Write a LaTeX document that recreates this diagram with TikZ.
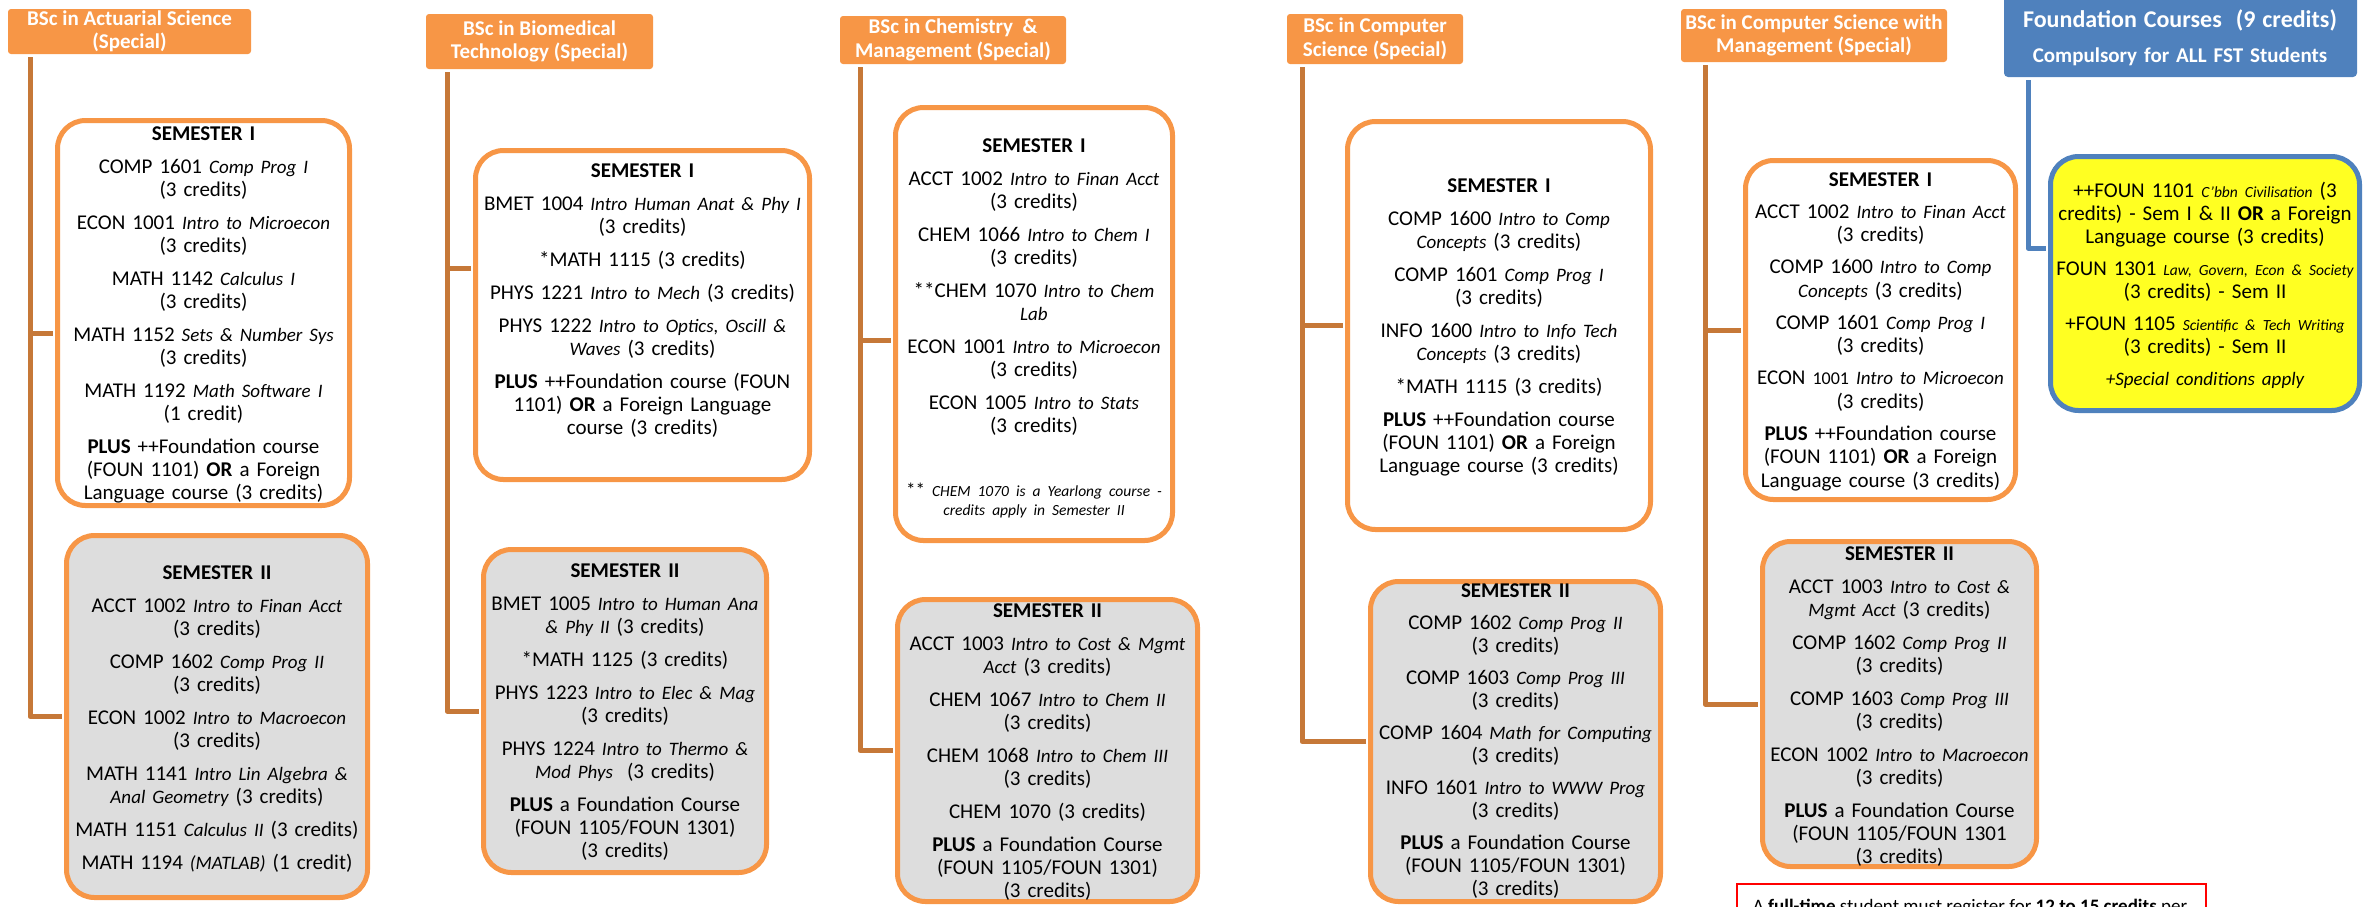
\documentclass[tikz,border=0pt]{standalone}
\usepackage{fontspec}
\setmainfont{Carlito}
\usetikzlibrary{calc}
\definecolor{orfill}{HTML}{F79646}
\definecolor{orline}{HTML}{C67838}
\definecolor{bluef}{HTML}{4F81BD}
\definecolor{semgray}{HTML}{DDDDDD}
\definecolor{yel}{HTML}{FFFF22}
\newcommand\ci[1]{{\fontsize{19}{23}\selectfont\itshape #1}}
\newcommand\cs[1]{{\fontsize{15.5}{19}\selectfont\itshape #1}}
\newcommand\cred{(3 credits)}
\begin{document}
\begin{tikzpicture}[x=1pt,y=-1pt,
  hdr/.style={fill=orfill, rounded corners=3pt, text=white, font=\bfseries\fontsize{21}{23.5}\selectfont, align=center, inner sep=0pt},
  semA/.style={draw=orfill, line width=5pt, fill=white, rounded corners=28pt, inner sep=0pt},
  semB/.style={semA, fill=semgray},
  fbox/.style={draw=bluef, line width=5pt, fill=yel, rounded corners=28pt, inner sep=0pt},
  semtxt/.style={anchor=base, align=center, text width=400pt, inner sep=0pt, font=\fontsize{21}{23}\selectfont},
  conn/.style={draw=orline, line width=5pt, line join=round, shorten >=2.5pt},
  bconn/.style={conn, draw=bluef},
]
\useasboundingbox (0,0) rectangle (2363,906);

% headers
\node[hdr, minimum width=243pt, minimum height=45pt] (h1) at (129.5,31.5) {BSc in Actuarial Science\\(Special)};
\node[hdr, minimum width=227pt, minimum height=55pt] (h2) at (539.5,41.5) {BSc in Biomedical\\Technology (Special)};
\node[hdr, minimum width=226pt, minimum height=48pt] (h3) at (953,40) {BSc in Chemistry\ \ \&\\Management (Special)};
\node[hdr, minimum width=176pt, minimum height=50pt] (h4) at (1375,39) {BSc in Computer\\Science (Special)};
\node[hdr, minimum width=266pt, minimum height=53pt] (h5) at (1814,35.5) {BSc in Computer Science with\\Management (Special)};
\node[fill=bluef, rounded corners=4pt, minimum width=353pt, minimum height=87pt, inner sep=0pt] (hf) at (2180.5,33.5) {};
\node[anchor=base, text=white, font=\bfseries\fontsize{21}{35}\selectfont, align=center, text width=400pt, inner sep=0pt] (hft) at (2180,27)
  {{\fontsize{24}{28}\selectfont Foundation Courses\ \ (9 credits)}\\Compulsory for ALL FST Students};

% boxes
\node[semA, minimum width=292pt, minimum height=385pt] (a1) at (203.5,313) {};
\node[semB, minimum width=301pt, minimum height=362pt] (b1) at (217,716.5) {};
\node[semA, minimum width=334pt, minimum height=329pt] (a2) at (642.5,315) {};
\node[semB, minimum width=283pt, minimum height=323pt] (b2) at (625,711) {};
\node[semA, minimum width=277pt, minimum height=433pt] (a3) at (1034,324) {};
\node[semB, minimum width=300pt, minimum height=302pt] (b3) at (1047.5,750.5) {};
\node[semA, minimum width=303pt, minimum height=408pt] (a4) at (1499,325.5) {};
\node[semB, minimum width=290pt, minimum height=320pt] (b4) at (1515.5,741.5) {};
\node[semA, minimum width=270pt, minimum height=339pt] (a5) at (1880.5,330) {};
\node[semB, minimum width=274pt, minimum height=325pt] (b5) at (1899.5,704) {};
\node[fbox, minimum width=309pt, minimum height=254pt] (fy) at (2205,283.5) {};
\node[draw=red, fill=white, line width=2pt, minimum width=469pt, minimum height=100pt, inner sep=0pt] (rb) at (1971.5,934) {};

% texts
\node[semtxt] (a1t) at (203.5,140) {\textbf{SEMESTER I}\\[10pt]
COMP 1601 \ci{Comp Prog I}\\ \cred\\[10pt]
ECON 1001 \ci{Intro to Microecon}\\ \cred\\[10pt]
MATH 1142 \ci{Calculus I}\\ \cred\\[10pt]
MATH 1152 \ci{Sets \& Number Sys}\\ \cred\\[10pt]
MATH 1192 \ci{Math Software I}\\ (1 credit)\\[10pt]
\textbf{PLUS} ++Foundation course\\ (FOUN 1101) \textbf{OR} a Foreign\\ Language course \cred};

\node[semtxt] (b1t) at (217,579) {\textbf{SEMESTER II}\\[10pt]
ACCT 1002 \ci{Intro to Finan Acct}\\ \cred\\[10pt]
COMP 1602 \ci{Comp Prog II}\\ \cred\\[10pt]
ECON 1002 \ci{Intro to Macroecon}\\ \cred\\[10pt]
MATH 1141 \ci{Intro Lin Algebra \&}\\ \ci{Anal Geometry} \cred\\[10pt]
MATH 1151 \ci{Calculus II} \cred\\[10pt]
MATH 1194 \ci{(MATLAB)} (1 credit)};

\node[semtxt] (a2t) at (642.5,177) {\textbf{SEMESTER I}\\[10pt]
BMET 1004 \ci{Intro Human Anat \& Phy I}\\ \cred\\[10pt]
{*}MATH 1115 \cred\\[10pt]
PHYS 1221 \ci{Intro to Mech} \cred\\[10pt]
PHYS 1222 \ci{Intro to Optics, Oscill \&}\\ \ci{Waves} \cred\\[10pt]
\textbf{PLUS} ++Foundation course (FOUN\\ 1101) \textbf{OR} a Foreign Language\\ course \cred};

\node[semtxt] (b2t) at (625,577) {\textbf{SEMESTER II}\\[10pt]
BMET 1005 \ci{Intro to Human Ana}\\ \ci{\& Phy II} \cred\\[10pt]
{*}MATH 1125 \cred\\[10pt]
PHYS 1223 \ci{Intro to Elec \& Mag}\\ \cred\\[10pt]
PHYS 1224 \ci{Intro to Thermo \&}\\ \ci{Mod Phys}\ \ \cred\\[10pt]
\textbf{PLUS} a Foundation Course\\ (FOUN 1105/FOUN 1301)\\ \cred};

\node[semtxt] (a3t) at (1034,152) {\textbf{SEMESTER I}\\[10pt]
ACCT 1002 \ci{Intro to Finan Acct}\\ \cred\\[10pt]
CHEM 1066 \ci{Intro to Chem I}\\ \cred\\[10pt]
{**}CHEM 1070 \ci{Intro to Chem}\\ \ci{Lab}\\[10pt]
ECON 1001 \ci{Intro to Microecon}\\ \cred\\[10pt]
ECON 1005 \ci{Intro to Stats}\\ \cred\\[41pt]
{\fontsize{19}{23}\selectfont**} \cs{CHEM 1070 is a Yearlong course -}\\[-4pt]
\cs{credits apply in Semester II}};

\node[semtxt] (b3t) at (1047.5,617) {\textbf{SEMESTER II}\\[10pt]
ACCT 1003 \ci{Intro to Cost \& Mgmt}\\ \ci{Acct} \cred\\[10pt]
CHEM 1067 \ci{Intro to Chem II}\\ \cred\\[10pt]
CHEM 1068 \ci{Intro to Chem III}\\ \cred\\[10pt]
CHEM 1070 \cred\\[10pt]
\textbf{PLUS} a Foundation Course\\ (FOUN 1105/FOUN 1301)\\ \cred};

\node[semtxt] (a4t) at (1499,192) {\textbf{SEMESTER I}\\[10pt]
COMP 1600 \ci{Intro to Comp}\\ \ci{Concepts} \cred\\[10pt]
COMP 1601 \ci{Comp Prog I}\\ \cred\\[10pt]
INFO 1600 \ci{Intro to Info Tech}\\ \ci{Concepts} \cred\\[10pt]
{*}MATH 1115 \cred\\[10pt]
\textbf{PLUS} ++Foundation course\\ (FOUN 1101) \textbf{OR} a Foreign\\ Language course \cred};

\node[semtxt] (b4t) at (1515.5,597) {\textbf{SEMESTER II}\\[9pt]
COMP 1602 \ci{Comp Prog II}\\ \cred\\[9pt]
COMP 1603 \ci{Comp Prog III}\\ \cred\\[9pt]
COMP 1604 \ci{Math for Computing}\\ \cred\\[9pt]
INFO 1601 \ci{Intro to WWW Prog}\\ \cred\\[9pt]
\textbf{PLUS} a Foundation Course\\ (FOUN 1105/FOUN 1301)\\ \cred};

\node[semtxt, font=\fontsize{21}{23.5}\selectfont] (a5t) at (1880.5,186) {\textbf{SEMESTER I}\\[8.5pt]
ACCT 1002 \ci{Intro to Finan Acct}\\ \cred\\[8.5pt]
COMP 1600 \ci{Intro to Comp}\\ \ci{Concepts} \cred\\[8.5pt]
COMP 1601 \ci{Comp Prog I}\\ \cred\\[8.5pt]
ECON {\fontsize{18}{23}\selectfont 1001} \ci{Intro to Microecon}\\ \cred\\[8.5pt]
\textbf{PLUS} ++Foundation course\\ (FOUN 1101) \textbf{OR} a Foreign\\ Language course \cred};

\node[semtxt] (b5t) at (1899.5,560) {\textbf{SEMESTER II}\\[10pt]
ACCT 1003 \ci{Intro to Cost \&}\\ \ci{Mgmt Acct} \cred\\[10pt]
COMP 1602 \ci{Comp Prog II}\\ \cred\\[10pt]
COMP 1603 \ci{Comp Prog III}\\ \cred\\[10pt]
ECON 1002 \ci{Intro to Macroecon}\\ \cred\\[10pt]
\textbf{PLUS} a Foundation Course\\ (FOUN 1105/FOUN 1301\\ \cred};

\node[semtxt] (fyt) at (2205,197) {++FOUN 1101 \cs{C'bbn Civilisation} (3\\ credits) - Sem I \& II \textbf{OR} a Foreign\\ Language course \cred\\[9pt]
FOUN 1301 \cs{Law, Govern, Econ \& Society}\\ \cred{} - Sem II\\[9pt]
+FOUN 1105 \cs{Scientific \& Tech Writing}\\ \cred{} - Sem II\\[9pt]
\ci{+Special conditions apply}};

\node[anchor=base, inner sep=0pt, font=\fontsize{19}{23}\selectfont] (rt) at (1970,912)
  {A \textbf{full-time} student must register for \textbf{12 to 15 credits} per};

% connectors
\coordinate (v1) at (30,57);
\draw[conn] (v1) |- ([yshift=-20pt]a1.west);
\draw[conn] (v1) |- (b1.west);
\coordinate (v2) at (447,72);
\draw[conn] (v2) |- ([yshift=47pt]a2.west);
\draw[conn] (v2) |- (b2.west);
\coordinate (v3) at (860,67);
\draw[conn] (v3) |- ([yshift=-16pt]a3.west);
\draw[conn] (v3) |- (b3.west);
\coordinate (v4) at (1302,67);
\draw[conn] (v4) |- (a4.west);
\draw[conn] (v4) |- (b4.west);
\coordinate (v5) at (1705,65);
\draw[conn] (v5) |- (a5.west);
\draw[conn] (v5) |- (b5.west);
\coordinate (vf) at (2028,80);
\draw[bconn] (vf) |- ([yshift=35.5pt]fy.west);
\end{tikzpicture}
\end{document}
